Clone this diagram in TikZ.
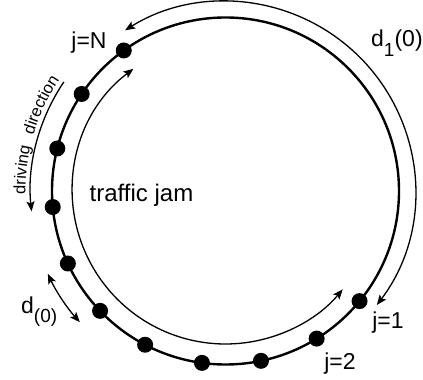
\documentclass[tikz,border=0pt]{standalone}
\usepackage{fontspec}
\setmainfont{Liberation Sans}
\usetikzlibrary{arrows.meta,decorations.text}
\newcommand\drvfont{\fontsize{16.5}{16.5}\selectfont}
\begin{document}
\begin{tikzpicture}[x=1pt,y=1pt,
  >={Stealth[length=10pt,width=8pt,inset=2pt]},
  road/.style={line width=2.4pt},
  thinarc/.style={line width=1.3pt},
  car/.style={circle,fill=black,inner sep=0pt,minimum size=16pt},
  lab/.style={inner sep=0pt,font=\fontsize{23}{23}\selectfont}]
\useasboundingbox (0,0) rectangle (423,380);
\coordinate (c) at (225.5,189);
% road
\draw[road] (c) circle[radius=173.5];
% cars
\foreach \a/\n in {320.6/1, 301.7/2, 281.8/3, 262.2/4, 242.4/5, 223.7/6, 204.7/7, 185.3/8, 165.8/9, 146/10, 125.9/11}
  \node[car] (car\n) at ([shift={(c)}]\a:173.5) {};
% d_1(0) outer arc
\draw[thinarc,<->] ([shift={(c)}]-37:189.5) arc[start angle=-37, end angle=122, radius=189.5];
% traffic jam inner arc
\draw[thinarc,<->] ([shift={(c)}]127:153) arc[start angle=127, end angle=320, radius=153];
% driving direction arrow
\draw[thinarc,->] ([shift={(c)}]146:195) arc[start angle=146, end angle=186, radius=195];
% d(0) arrow
\draw[thinarc,<->] ([shift={(c)}]205:196) arc[start angle=205, end angle=222, radius=196];
% driving direction text
\path[decorate,decoration={text along path,text={|\drvfont|driving},text align=center}]
  ([shift={(c)}]182:200) arc[start angle=182, end angle=166, radius=200];
\path[decorate,decoration={text along path,text={|\drvfont|direction},text align=center}]
  ([shift={(c)}]165:200) arc[start angle=165, end angle=145, radius=200];
% labels
\node[lab,anchor=base] (jN) at (89,331.7) {j=N};
\node[lab,anchor=base west] (d1) at (371,333) {d\raisebox{-0.42em}{\fontsize{19}{19}\selectfont 1}(0)};
\node[lab,font=\fontsize{24}{24}\selectfont,anchor=base] (tj) at (141.5,178.3) {traffic jam};
\node[lab,anchor=base west] (d0) at (21,66.7) {d\raisebox{-0.42em}{\fontsize{19}{19}\selectfont (0)}};
\node[lab,anchor=base] (j1) at (388,51) {j=1};
\node[lab,anchor=base] (j2) at (340,10) {j=2};
\end{tikzpicture}
\end{document}
